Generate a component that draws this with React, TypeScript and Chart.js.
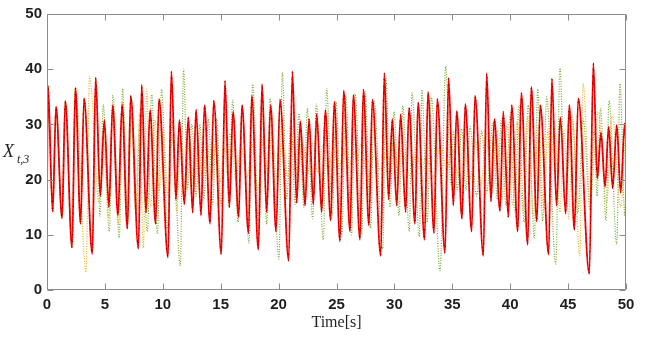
import React, { useEffect, useRef } from 'react';
import { Chart, registerables } from 'chart.js';

Chart.register(...registerables);

// Tick values
const xTickValues = [0, 5, 10, 15, 20, 25, 30, 35, 40, 45, 50];
const yTickValues = [0, 10, 20, 30, 40, 50];

// Series: [time (s), value] (peaks / troughs)
const redSeries: [number, number][] = [
  [0, 16], [0.08, 37], [0.49, 14.2], [0.78, 33.2], [1.3, 13.0], [1.58, 34.2], [2.16, 7.7], [2.45, 36.6], [2.9, 12.0], [3.2, 34.7],
  [3.91, 6.5], [4.2, 38.5], [4.6, 17.0], [4.95, 30.8], [5.35, 15.0], [5.67, 33.5], [6.13, 13.5], [6.48, 33.6], [6.94, 11.1], [7.23, 35.2],
  [7.89, 7.5], [8.18, 37.2], [8.55, 14.0], [8.9, 32.6], [9.38, 12.0], [9.67, 34.6], [10.45, 5.9], [10.74, 39.6], [11.14, 16.4], [11.43, 30.8],
  [11.86, 15.5], [12.2, 31.3], [12.58, 14.0], [12.87, 32.7], [13.3, 13.5], [13.6, 33.5], [14.08, 12.0], [14.4, 34.3], [15.05, 6.5], [15.37, 37.9],
  [15.75, 15.0], [16.06, 32.3], [16.55, 13.2], [16.84, 33.5], [17.4, 10.3], [17.68, 35.2], [18.25, 7.3], [18.57, 37.3], [18.97, 14.1], [19.31, 33.5],
  [19.78, 10.6], [20.12, 34.5], [20.87, 5.3], [21.19, 39.6], [21.56, 15.8], [21.88, 30.6], [22.28, 15.3], [22.63, 31.0], [23.0, 15.5], [23.29, 31.9],
  [23.72, 14.1], [24.03, 32.6], [24.5, 12.6], [24.81, 34.1], [25.3, 8.8], [25.62, 36.1], [26.17, 10.6], [26.45, 35.3], [27.03, 9.1], [27.32, 36.3],
  [27.8, 11.7], [28.1, 34.5], [28.82, 6.2], [29.13, 39.3], [29.5, 16.4], [29.82, 31.0], [30.2, 15.3], [30.54, 31.8], [30.97, 14.1], [31.26, 33.0],
  [31.78, 12.0], [32.04, 34.0], [32.6, 9.1], [32.9, 35.9], [33.42, 10.3], [33.7, 34.6], [34.37, 6.7], [34.68, 38.4], [35.09, 15.3], [35.38, 32.4],
  [35.84, 12.9], [36.12, 33.7], [36.67, 10.6], [36.96, 35.2], [37.68, 6.2], [37.97, 39.3], [38.34, 16.0], [38.63, 31.0], [39.12, 14.3], [39.4, 32.3],
  [39.84, 13.2], [40.13, 33.5], [40.65, 10.6], [40.96, 35.7], [41.51, 8.2], [41.82, 36.8], [42.3, 12.4], [42.6, 33.5], [43.32, 6.4], [43.6, 38.3],
  [44.0, 15.3], [44.33, 31.3], [44.79, 13.8], [45.1, 33.5], [45.54, 10.9], [45.88, 34.7], [46.83, 2.9], [47.18, 41.1], [47.52, 20.2], [47.84, 28.5],
  [48.19, 18.7], [48.5, 29.6], [48.85, 18.4], [49.2, 29.9], [49.54, 17.6], [49.89, 30.2], [50, 27],
];

// The black reference trajectory lies under the red one
const blackSeries: [number, number][] = redSeries;

const greenSeries: [number, number][] = [
  [0, 16], [0.08, 37], [0.49, 14.2], [0.78, 33.2], [1.3, 13.0], [1.58, 34.2], [2.16, 7.7], [2.45, 36.6], [2.9, 12.0], [3.2, 34.7],
  [3.93, 6.8], [4.23, 38.0], [4.58, 13.4], [4.86, 33.6], [5.38, 10.6], [5.69, 35.3], [6.24, 9.4], [6.53, 36.5], [6.95, 13.0], [7.27, 32.0],
  [7.7, 14.0], [8.08, 33.0], [8.67, 10.6], [9.04, 35.4], [9.53, 10.1], [9.9, 36.4], [10.4, 11.1], [10.82, 30.5], [11.51, 4.4], [11.8, 40.0],
  [12.12, 18.2], [12.52, 30.0], [12.87, 17.0], [13.2, 30.0], [13.55, 16.5], [13.95, 31.0], [14.3, 15.5], [14.65, 31.0], [15.03, 15.3], [15.4, 33.0],
  [15.7, 15.0], [16.03, 34.4], [16.5, 12.3], [16.84, 33.5], [17.44, 8.5], [17.76, 37.3], [18.3, 10.0], [18.62, 33.0], [18.97, 11.9], [19.26, 34.7],
  [20.03, 5.6], [20.32, 39.4], [20.7, 16.4], [21.07, 31.2], [21.42, 15.5], [21.76, 32.0], [22.19, 15.0], [22.48, 32.9], [22.94, 12.9], [23.26, 33.7],
  [23.86, 9.1], [24.15, 36.5], [24.64, 13.5], [24.96, 34.1], [25.45, 10.0], [25.8, 35.2], [26.3, 10.0], [26.6, 35.5], [27.18, 10.3], [27.46, 36.0],
  [27.95, 11.2], [28.24, 34.3], [28.99, 7.4], [29.27, 38.4], [29.62, 15.0], [29.97, 32.3], [30.4, 13.5], [30.72, 33.4], [31.29, 10.6], [31.52, 35.7],
  [32.15, 9.7], [32.38, 36.3], [32.84, 12.3], [33.19, 34.9], [33.94, 3.5], [34.43, 40.5], [34.89, 19.1], [35.09, 28.8], [35.43, 18.2], [35.81, 29.2],
  [36.18, 18.2], [36.53, 29.6], [37.1, 17.0], [37.54, 28.8], [37.97, 17.6], [38.49, 30.2], [38.89, 16.4], [39.23, 30.8], [39.64, 15.3], [39.98, 31.7],
  [40.41, 14.1], [40.76, 33.5], [41.19, 12.3], [41.56, 33.5], [42.08, 9.4], [42.37, 36.4], [42.8, 12.5], [43.15, 35.0], [43.93, 4.7], [44.3, 40.2],
  [44.73, 15.5], [45.35, 31.7], [45.85, 14.0], [46.3, 31.0], [46.9, 14.6], [47.25, 29.0], [47.5, 17.0], [47.8, 32.9], [48.27, 12.6], [48.53, 34.3],
  [49.2, 8.3], [49.48, 37.4], [49.9, 13.5], [50, 18],
];

const orangeSeries: [number, number][] = [
  [0, 16], [0.08, 37], [0.49, 14.2], [0.78, 33.2], [1.3, 13.0], [1.58, 34.2], [2.16, 7.7], [2.45, 36.6], [3.37, 3.2], [3.68, 38.7],
  [4.5, 16.0], [4.85, 29.0], [5.3, 13.0], [5.65, 32.0], [6.15, 12.0], [6.5, 34.0], [7.0, 12.5], [7.3, 34.0], [7.65, 14.0], [8.0, 32.0],
  [8.32, 7.6], [8.6, 36.4], [8.95, 15.0], [9.33, 30.8], [9.7, 18.0], [10.05, 29.0], [10.45, 17.0], [10.8, 28.0], [11.2, 14.3], [11.55, 28.0],
  [11.95, 17.0], [12.3, 27.0], [12.7, 18.0], [13.05, 27.0], [13.45, 19.0], [13.8, 27.0], [14.2, 20.0], [14.55, 26.5], [14.95, 19.5], [15.3, 25.8],
  [15.55, 21.0], [15.8, 28.4], [16.3, 20.0], [16.75, 26.0], [17.3, 20.5], [17.7, 26.7], [18.2, 18.2], [18.7, 27.5], [19.1, 20.5], [19.4, 28.6],
  [19.9, 19.8], [20.3, 27.0], [20.8, 20.5], [21.2, 27.0], [21.65, 20.8], [22.05, 27.0], [22.5, 21.0], [22.9, 26.5], [23.4, 21.3], [23.8, 26.2],
  [24.3, 21.5], [24.7, 25.8], [25.2, 21.8], [25.6, 25.5], [26.0, 22.0], [26.5, 25.0], [26.8, 23.5], [27.1, 26.4], [27.7, 20.5], [28.3, 24.5],
  [28.8, 21.8], [29.3, 25.0], [29.6, 23.5], [29.9, 26.6], [30.3, 22.0], [30.6, 25.3], [31.4, 20.5], [31.9, 25.0], [32.3, 21.5], [32.7, 24.0],
  [33.4, 20.3], [34.0, 26.5], [34.5, 21.8], [35.0, 25.5], [35.5, 20.8], [36.0, 26.5], [36.5, 20.0], [37.0, 27.0], [37.5, 19.0], [37.9, 28.5],
  [38.4, 17.5], [38.8, 29.0], [39.3, 16.5], [39.7, 30.0], [40.2, 15.5], [40.6, 30.5], [41.1, 14.5], [41.5, 31.5], [42.0, 13.5], [42.45, 30.0],
  [42.9, 14.5], [43.25, 29.0], [43.5, 20.0], [43.78, 30.5], [44.3, 14.1], [44.65, 29.0], [45.05, 12.9], [45.4, 30.5], [46.0, 6.2], [46.3, 37.4],
  [46.9, 15.8], [47.6, 32.3], [48.33, 15.8], [48.8, 31.7], [49.55, 15.0], [50, 32.0],
];

const AXIS_COLOR = '#8c8c8c';
const TEXT_COLOR = '#1f1f1f';

export default function App() {
  const canvasRef = useRef<HTMLCanvasElement>(null);

  useEffect(() => {
    const canvas = canvasRef.current;
    if (!canvas) return;
    const toPoints = (s: [number, number][]) => s.map(([x, y]) => ({ x, y }));

    const framePlugin = {
      id: 'frame',
      afterDraw(chart: any) {
        const { ctx, chartArea: a, scales } = chart;
        const xs = scales.x;
        const ys = scales.y;
        ctx.save();
        ctx.strokeStyle = AXIS_COLOR;
        ctx.lineWidth = 1;
        const L = Math.round(a.left) + 0.5;
        const R = Math.round(a.right) - 0.5;
        const T = Math.round(a.top) + 0.5;
        const B = Math.round(a.bottom) - 0.5;
        ctx.beginPath();
        ctx.rect(L, T, R - L, B - T);
        const tl = 6;
        xTickValues.forEach((v) => {
          const px = Math.round(xs.getPixelForValue(v)) + 0.5;
          ctx.moveTo(px, B); ctx.lineTo(px, B - tl);
          ctx.moveTo(px, T); ctx.lineTo(px, T + tl);
        });
        yTickValues.forEach((v) => {
          const py = Math.round(ys.getPixelForValue(v)) + 0.5;
          ctx.moveTo(L, py); ctx.lineTo(L + tl, py);
          ctx.moveTo(R, py); ctx.lineTo(R - tl, py);
        });
        ctx.stroke();

        // axis titles
        ctx.fillStyle = TEXT_COLOR;
        ctx.textBaseline = 'alphabetic';
        ctx.textAlign = 'left';
        ctx.font = 'italic 18px "Liberation Serif", serif';
        ctx.fillText('X', 3, 157);
        ctx.font = 'italic 12px "Liberation Serif", serif';
        ctx.fillText('t,3', 17, 163);
        ctx.textAlign = 'center';
        ctx.font = '16px "Liberation Serif", serif';
        ctx.fillText('Time[s]', (a.left + a.right) / 2, 327);
        ctx.restore();
      },
    };

    const common = {
      pointRadius: 0,
      fill: false,
      cubicInterpolationMode: 'monotone' as const,
    };

    const chart = new Chart(canvas, {
      type: 'line',
      data: {
        datasets: [
          {
            ...common,
            label: 'reference',
            data: toPoints(blackSeries),
            borderColor: 'rgba(0,0,0,0.7)',
            borderWidth: 1,
            borderDash: [1, 6],
          },
          {
            ...common,
            label: 'red',
            data: toPoints(redSeries),
            borderColor: 'rgb(255,0,0)',
            borderWidth: 1.8,
          },
          {
            ...common,
            label: 'orange',
            data: toPoints(orangeSeries),
            borderColor: 'rgb(237,177,32)',
            borderWidth: 1.2,
            borderDash: [1, 1.5],
          },
          {
            ...common,
            label: 'green',
            data: toPoints(greenSeries),
            borderColor: 'rgb(119,172,48)',
            borderWidth: 1.2,
            borderDash: [1, 1.5],
          },
        ],
      },
      options: {
        animation: false,
        responsive: false,
        devicePixelRatio: 1,
        layout: { padding: { left: 0, right: 20, top: 6, bottom: 0 } },
        plugins: { legend: { display: false }, tooltip: { enabled: false } },
        scales: {
          x: {
            type: 'linear',
            min: 0,
            max: 50,
            afterFit: (scale: any) => { scale.height = 48; },
            afterBuildTicks: (scale: any) => { scale.ticks = xTickValues.map((v) => ({ value: v })); },
            grid: { display: false, drawTicks: false },
            border: { display: false },
            ticks: {
              autoSkip: false,
              maxRotation: 0,
              padding: 6,
              color: TEXT_COLOR,
              font: { family: '"Liberation Sans", Arial, sans-serif', size: 15, weight: 'bold' },
            },
          },
          y: {
            type: 'linear',
            min: 0,
            max: 50,
            afterFit: (scale: any) => { scale.width = 47; },
            afterBuildTicks: (scale: any) => { scale.ticks = yTickValues.map((v) => ({ value: v })); },
            grid: { display: false, drawTicks: false },
            border: { display: false },
            ticks: {
              autoSkip: false,
              padding: 5,
              color: TEXT_COLOR,
              font: { family: '"Liberation Sans", Arial, sans-serif', size: 15, weight: 'bold' },
            },
          },
        },
      },
      plugins: [framePlugin],
    } as any);

    return () => chart.destroy();
  }, []);

  return (
    <div style={{ position: 'fixed', left: 0, top: 0, width: 646, height: 338, background: '#ffffff' }}>
      <canvas ref={canvasRef} width={646} height={338} style={{ display: 'block', width: 646, height: 338 }} />
    </div>
  );
}
